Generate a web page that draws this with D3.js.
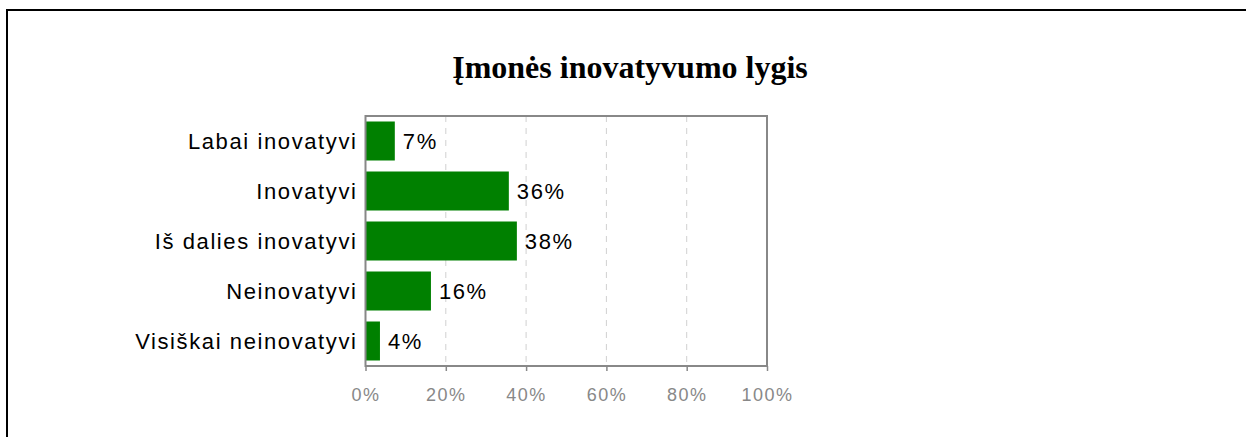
<!DOCTYPE html>
<html>
<head>
<meta charset="utf-8">
<script src="https://cdn.jsdelivr.net/npm/d3@7"></script>
<style>
body{margin:0;background:#fff;}
</style>
</head>
<body>
<svg id="chart"></svg>
<script>
var categories=["Labai inovatyvi","Inovatyvi","Iš dalies inovatyvi","Neinovatyvi","Visiškai neinovatyvi"];
var values=[7.3,35.7,37.7,16.3,3.6];
var tickValues=[0,20,40,60,80,100];
var title="Įmonės inovatyvumo lygis";

var width=1246, height=437;
var plotLeft=365.5, plotRight=767, plotTop=116, plotBottom=366;

var svg=d3.select("#chart").attr("width",width).attr("height",height);

// outer frame (only top and left visible)
svg.append("path")
  .attr("d","M7,"+height+" L7,10 L"+width+",10")
  .attr("fill","none")
  .attr("stroke","black")
  .attr("stroke-width",2);

svg.append("text")
  .attr("x",630)
  .attr("y",78)
  .attr("text-anchor","middle")
  .attr("font-family","Liberation Serif")
  .attr("font-weight","bold")
  .attr("font-size",32)
  .attr("fill","black")
  .text(title);

var x=d3.scaleLinear().domain([0,100]).range([plotLeft,plotRight]);
var y=d3.scaleBand().domain(categories).range([plotTop,plotBottom]).paddingInner(0.22).paddingOuter(0.11);

// gridlines
svg.append("g").selectAll("line")
  .data(tickValues.slice(1,-1))
  .join("line")
  .attr("x1",function(d){return x(d);})
  .attr("x2",function(d){return x(d);})
  .attr("y1",plotTop)
  .attr("y2",plotBottom)
  .attr("stroke","#d0d0d0")
  .attr("stroke-dasharray","6,6");

svg.append("g").selectAll("rect")
  .data(values)
  .join("rect")
  .attr("x",x(0))
  .attr("y",function(d,i){return y(categories[i]);})
  .attr("width",function(d){return x(d)-x(0);})
  .attr("height",y.bandwidth())
  .attr("fill","#008000");

// plot frame
svg.append("rect")
  .attr("x",plotLeft)
  .attr("y",plotTop)
  .attr("width",plotRight-plotLeft)
  .attr("height",plotBottom-plotTop)
  .attr("fill","none")
  .attr("stroke","#888")
  .attr("stroke-width",2);

var xAxis=d3.axisBottom(x).tickValues(tickValues).tickSize(5).tickPadding(17)
  .tickFormat(function(d){return d+"%";});
var gx=svg.append("g").attr("transform","translate(0,"+plotBottom+")").call(xAxis);
gx.select(".domain").remove();
gx.selectAll(".tick line").attr("stroke","#888").attr("stroke-width",1.5);
gx.selectAll(".tick text")
  .attr("fill","#888")
  .attr("font-family","Liberation Sans, Arial")
  .attr("font-size",18)
  .attr("letter-spacing","1.5px");

// category labels
svg.append("g").selectAll("text")
  .data(categories)
  .join("text")
  .attr("x",plotLeft-8)
  .attr("y",function(d){return y(d)+y.bandwidth()/2+8;})
  .attr("text-anchor","end")
  .attr("font-family","Liberation Sans, Arial")
  .attr("font-size",22)
  .attr("letter-spacing","1.6px")
  .attr("fill","black")
  .text(function(d){return d;});

// value labels
svg.append("g").selectAll("text")
  .data(values)
  .join("text")
  .attr("x",function(d){return x(d)+8;})
  .attr("y",function(d,i){return y(categories[i])+y.bandwidth()/2+8;})
  .attr("font-family","Liberation Sans, Arial")
  .attr("font-size",22)
  .attr("letter-spacing","1.6px")
  .attr("fill","black")
  .text(function(d){return d3.format(".0f")(d)+"%";});
</script>
</body>
</html>
